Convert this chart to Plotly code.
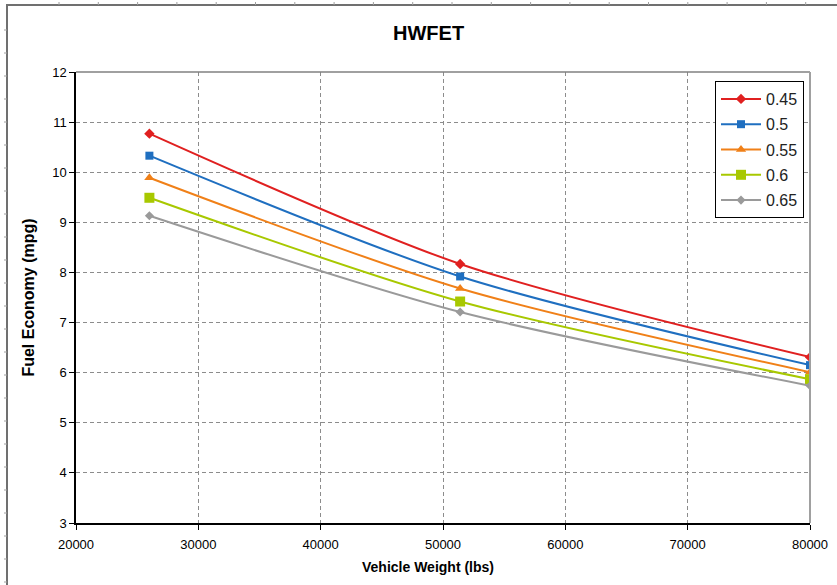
import plotly.graph_objects as go

weights = [26000, 51400, 80000]
series_names = ["0.45", "0.5", "0.55", "0.6", "0.65"]
fe_045 = [10.77, 8.17, 6.31]
fe_050 = [10.33, 7.92, 6.15]
fe_055 = [9.89, 7.68, 6.01]
fe_060 = [9.49, 7.42, 5.87]
fe_065 = [9.13, 7.21, 5.74]

colors = ["#E02020", "#1F6FC0", "#F08018", "#A8C800", "#9A9A9A"]
symbols = ["diamond", "square", "triangle-up", "square", "diamond"]
sizes = [8, 8, 9, 10, 7]
values = [fe_045, fe_050, fe_055, fe_060, fe_065]

fig = go.Figure()
for name, ys, c, s, sz in zip(series_names, values, colors, symbols, sizes):
    fig.add_trace(go.Scatter(
        x=weights, y=ys, name=name, mode="lines+markers", legendgroup=name,
        line=dict(color=c, width=2, shape="spline", smoothing=0.8),
        marker=dict(symbol=s, size=sz, color=c),
    ))

L, R, T, B = 76, 27, 72, 62
W, H = 837, 585
pw, ph = float(W - L - R), float(H - T - B)
def px_x(p):
    return (p - L) / pw
def px_y(p):
    return (H - B - p) / ph

font = "Liberation Sans, Arial, sans-serif"
fig.update_layout(
    width=W, height=H,
    margin=dict(l=L, r=R, t=T, b=B, autoexpand=False),
    paper_bgcolor="white", plot_bgcolor="white",
    font=dict(family=font, size=13, color="black"),
    xaxis=dict(range=[20000, 80000], dtick=10000, tick0=20000, tickformat="d",
               automargin=False,
               showgrid=True, gridcolor="#8c8c8c", griddash="4px,3px", gridwidth=1,
               showline=True, linecolor="black", linewidth=1.5, mirror=False,
               ticks="outside", ticklen=5, tickcolor="black", ticklabelstandoff=4,
               tickfont=dict(size=13), zeroline=False),
    yaxis=dict(range=[3, 12], dtick=1, tick0=3, automargin=False,
               showgrid=True, gridcolor="#8c8c8c", griddash="4px,3px", gridwidth=1,
               showline=True, linecolor="black", linewidth=1.5,
               ticks="outside", ticklen=5, tickcolor="black",
               tickfont=dict(size=13), zeroline=False,
               title=dict(text="<b>Fuel Economy (mpg)</b>", font=dict(size=16), standoff=14)),
    legend=dict(x=px_x(715), y=px_y(81), xanchor="left", yanchor="top",
                bordercolor="black", borderwidth=1, bgcolor="white",
                font=dict(size=16, color="#222"), itemwidth=40,
                traceorder="grouped", tracegroupgap=1.5),
    showlegend=True,
)

fig.add_annotation(text="<b>HWFET</b>", xref="paper", yref="paper", x=px_x(428), y=px_y(33),
                   showarrow=False, font=dict(size=20, family=font), xanchor="center", yanchor="middle")
fig.add_annotation(text="<b>Vehicle Weight (lbs)</b>", xref="paper", yref="paper", x=px_x(428), y=px_y(567),
                   showarrow=False, font=dict(size=14, family=font), xanchor="center", yanchor="middle")

# plot-area border (top and right in gray)
fig.add_shape(type="line", xref="paper", yref="paper", x0=0, x1=1, y0=1, y1=1,
              line=dict(color="#808080", width=1.5))
fig.add_shape(type="line", xref="paper", yref="paper", x0=1, x1=1, y0=0, y1=1,
              line=dict(color="#A0A0A0", width=2))

# outer sheet frame
fig.add_shape(type="line", xref="paper", yref="paper", x0=px_x(6), x1=px_x(837), y0=px_y(5), y1=px_y(5),
              line=dict(color="#707070", width=2))
fig.add_shape(type="line", xref="paper", yref="paper", x0=px_x(7), x1=px_x(7), y0=px_y(4), y1=px_y(585),
              line=dict(color="#707070", width=2))
for k in range(21):
    xp = 59 + 39.3 * k
    if xp > 836:
        break
    fig.add_shape(type="line", xref="paper", yref="paper", x0=px_x(xp), x1=px_x(xp),
                  y0=px_y(2), y1=px_y(5), line=dict(color="#A0A0A0", width=1))
for k in range(30):
    yp = 30 + 23 * k
    if yp > 584:
        break
    fig.add_shape(type="line", xref="paper", yref="paper", x0=px_x(4), x1=px_x(7),
                  y0=px_y(yp), y1=px_y(yp), line=dict(color="#A0A0A0", width=1))

fig.write_html("out.html")
